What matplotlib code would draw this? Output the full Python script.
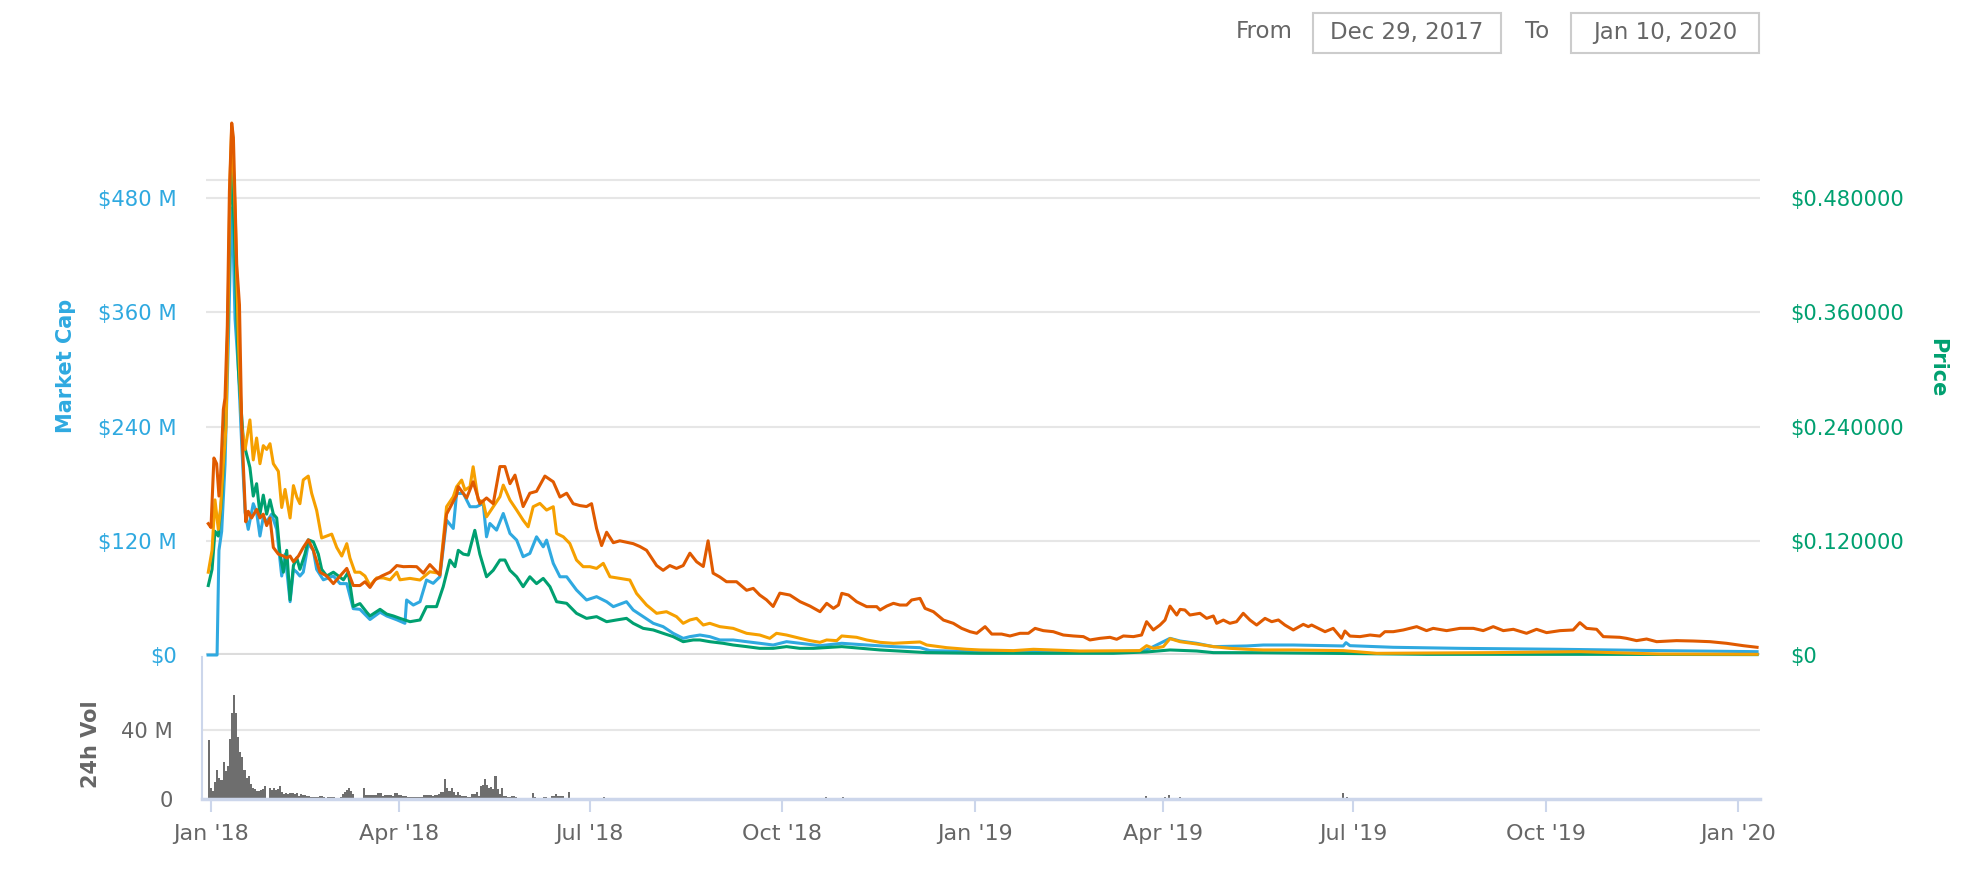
import numpy as np
import pandas as pd
import matplotlib
matplotlib.use("Agg")
import matplotlib.pyplot as plt
import matplotlib.dates as mdates
from matplotlib.patches import Rectangle

plt.rcParams['font.family'] = ['DejaVu Sans']

T0 = pd.Timestamp("2018-01-01")

# (days since 2018-01-01, value)
mcap_pts = [  # market cap, $M (blue)
    (-1.4, 0), (2.9, 0), (3.8, 110), (5.1, 130), (6.7, 200), (8.3, 330), (9.5, 440), (10.2, 470),
    (11.5, 353), (13.1, 300), (14.7, 220), (16.3, 150), (17.8, 132), (20.2, 159), (21.8, 150),
    (23.4, 125), (25, 145), (26.6, 140), (29, 148), (31.4, 132), (33.8, 83), (35.4, 106), (37.8, 56),
    (39.4, 90), (41, 87), (42.5, 83), (44.1, 87), (46.5, 117), (48.9, 110), (50.5, 90), (53.7, 79),
    (58.5, 83), (61.7, 75), (64.9, 75), (68, 48.7), (71.2, 48), (76, 37.3), (80.8, 45), (84, 41),
    (88.8, 37), (92.7, 33.3), (93.5, 57.8), (96.7, 52.5), (99.9, 56), (103, 78.8), (106.2, 75.3),
    (109.4, 82.2), (112.6, 141.7), (115.8, 133), (117.4, 169.8), (120.6, 169.8), (123.8, 155.8),
    (126.9, 155.8), (130.1, 159.3), (131.7, 124.2), (133.3, 138.2), (136.5, 131.2), (139.7, 148.7),
    (142.9, 127.7), (146.1, 120.7), (149.2, 103.3), (152.4, 106.7), (155.6, 124.2), (158.8, 113.7),
    (160.4, 120.7), (163.6, 96.3), (166.8, 82.2), (170, 82.2), (174.7, 68.3), (179.5, 57.8),
    (184.3, 61.3), (189.1, 56), (192.3, 50.8), (198.6, 56), (201.8, 47.3), (206.6, 40.3),
    (211.4, 33.3), (216.1, 29.8), (220.9, 22.8), (225.7, 17.5), (228.9, 19.3), (233.7, 21),
    (238.4, 19.3), (243.2, 15.8), (249.6, 15.8), (256, 14), (262.3, 12.3), (268.7, 10.5), (275.1, 14),
    (281.6, 12.3), (291.1, 9.8), (301.5, 12.3), (313.4, 10.5), (326.2, 8.8), (338.9, 7.7),
    (343.7, 4.6), (367.6, 3.5), (399.5, 3.5), (431.3, 3.5), (445.6, 4.2), (448.8, 7), (458.4, 17.5),
    (463.2, 14.7), (471.1, 12.3), (479.1, 8.8), (495, 9.5), (503, 10.5), (517.3, 10.5), (541.2, 9.5),
    (542.5, 13), (544.4, 9.8), (565.1, 8.1), (597, 7), (644.8, 6), (692.6, 4.6), (739, 3.5),
]

price_pts = [  # price, $ (green, right axis)
    (-1.3, .073), (0.5, .090), (1.9, .130), (3.5, .125), (5.1, .165), (6.7, .230), (8.3, .370),
    (9.1, .470), (9.9, .520), (11.5, .420), (13.1, .300), (15.5, .224), (18.6, .197), (20.2, .167),
    (21.8, .180), (23.4, .148), (25, .168), (26.6, .148), (28.2, .163), (29.8, .148), (31.4, .144),
    (33, .106), (34.6, .087), (36.2, .110), (37.8, .058), (39.4, .094), (41, .102), (42.5, .090),
    (44.9, .106), (46.5, .121), (48.9, .119), (51.3, .106), (52.9, .090), (55.3, .083), (58.5, .087),
    (60.9, .083), (63.3, .079), (65.6, .087), (68, .051), (71.2, .054), (74.4, .045), (76, .041),
    (80.8, .048), (84, .043), (87.2, .041), (90.3, .0385), (95.1, .035), (99.9, .0368), (103, .0508),
    (107.8, .0508), (111, .0718), (114.2, .0998), (116.6, .0928), (118.2, .110), (120.6, .106),
    (123, .105), (126.1, .131), (128.5, .106), (131.7, .0822), (134.9, .089), (138.1, .0998),
    (140.5, .0998), (142.9, .089), (146.1, .0822), (149.2, .0718), (152.4, .0822), (155.6, .075),
    (158.8, .0805), (162, .0718), (165.2, .056), (170, .0543), (174.7, .0438), (179.5, .0385),
    (184.3, .0403), (189.1, .035), (193.8, .0368), (198.6, .0385), (201.8, .0333), (206.6, .028),
    (211.4, .0263), (216.1, .0228), (220.9, .0193), (225.7, .014), (230.5, .0158), (233.7, .0158),
    (238.4, .014), (244.8, .0123), (249.6, .0105), (256, .0088), (262.3, .007), (268.7, .007),
    (275.1, .0088), (281.5, .007), (288, .007), (301.5, .0088), (319.8, .0053), (342.1, .0025),
    (367.6, .0018), (431.3, .0018), (447.2, .0032), (458.4, .0053), (471.1, .0042), (479.1, .0025),
    (501.4, .0024), (533.3, .0018), (581, .0007), (660.7, .0007), (739, .0004),
]

orange_pts = [  # light orange series, left-axis units
    (-1.3, 87), (0.5, 110), (1.9, 163), (3.5, 132), (4.6, 155), (5.9, 201), (7.2, 240), (8.3, 380),
    (9.1, 500), (9.9, 555), (11.5, 470), (13.1, 330), (14.7, 239), (16.3, 216), (18.6, 247),
    (20.2, 205), (21.8, 228), (23.4, 201), (25, 220), (26.6, 216), (28.2, 222), (29.8, 201),
    (32.2, 193), (33.8, 155), (35.4, 174), (37.8, 144), (39.4, 178), (41, 166), (42.5, 159),
    (44.1, 184), (46.5, 188), (48.1, 170), (50.5, 152), (52.9, 123), (55.3, 125), (57.7, 127),
    (60.1, 113), (62.5, 104), (64.9, 117), (66.4, 102), (68.8, 87), (71.2, 87), (73.6, 83), (76, 73),
    (79.2, 81), (82.4, 81), (85.6, 79), (88.8, 87), (90.3, 79), (95.1, 80.5), (99.9, 78.8),
    (104.6, 87.5), (109.4, 85.8), (112.6, 155.8), (115.8, 166.3), (117.4, 176.8), (119.8, 183.8),
    (121.4, 173.3), (123.8, 176.8), (125.3, 197.8), (127.7, 162.8), (130.1, 161), (131.7, 145.2),
    (134.9, 155.8), (138.1, 166.3), (139.7, 178.5), (142.9, 162.8), (146.1, 152.3), (149.2, 141.7),
    (151.6, 134.7), (154, 155.8), (157.2, 159.3), (160.4, 152.3), (163.6, 155.8), (165.2, 127.7),
    (168.4, 124.2), (171.5, 117.2), (174.7, 99.8), (177.9, 92.8), (181.1, 92.8), (184.3, 91),
    (187.5, 96.3), (190.7, 82.2), (195.4, 80.5), (200.2, 78.8), (203.4, 64.7), (208.2, 52.5),
    (213, 43.8), (217.7, 45.5), (222.5, 40.3), (225.7, 33.3), (228.9, 36.8), (232.1, 38.5),
    (235.3, 31.5), (238.4, 33.3), (243.2, 29.8), (249.6, 28), (256, 22.8), (262.3, 21),
    (267.1, 17.5), (270.3, 22.8), (275.1, 21), (281.6, 17.5), (286.3, 15.1), (291.1, 13.3),
    (294.3, 15.8), (299.1, 15.1), (301.5, 20), (308.6, 18.6), (313.4, 15.8), (319.8, 13.3),
    (326.2, 12.3), (332.5, 13), (338.9, 13.7), (342.1, 10.5), (351.7, 7.7), (361.2, 6), (367.6, 5.3),
    (383.5, 4.6), (393.1, 6), (415.4, 4.2), (444, 4.6), (447.2, 9.8), (450.4, 7), (455.2, 8.8),
    (458.4, 17.2), (463.2, 14), (471.1, 11.6), (479.1, 8.8), (487, 7), (495, 6), (503, 5.3),
    (517.3, 5.3), (541.2, 4.6), (557.2, 1.75), (612.9, 2.5), (654.3, 3.5), (692.6, 1), (739, 0.7),
]

red_pts = [  # dark orange series, left-axis units
    (-1.3, 138), (0, 134), (1.4, 207), (2.7, 201), (3.8, 167), (4.6, 190), (5.9, 258), (6.7, 270),
    (7.8, 346), (8.8, 487), (9.9, 559), (10.7, 544), (12.3, 410), (13.6, 368), (14.7, 239),
    (16.6, 140), (17.8, 151), (19.4, 144), (21.8, 153), (23.4, 144), (25, 148), (26.6, 136),
    (28.2, 144), (29.8, 113), (32.2, 106), (34.6, 104), (36.2, 102), (37.8, 104), (39.4, 98),
    (41.8, 104), (44.1, 113), (46.5, 121), (48.9, 110), (52.1, 87), (55.3, 83), (58.5, 75),
    (61.7, 83), (64.9, 91), (68, 73), (71.2, 73), (73.6, 77), (76, 71), (78.4, 79), (81.6, 83),
    (85.6, 87), (88.8, 94), (92, 92.8), (95.1, 93), (98.3, 92.8), (101.5, 86), (104.6, 95),
    (109.4, 84), (112.6, 148), (117.4, 168), (118.2, 177), (122.2, 165), (125.3, 182), (128.5, 159),
    (131.7, 165), (134.9, 159), (138.1, 198), (140.5, 198), (142.9, 180), (145.3, 189), (149.2, 156),
    (152.4, 170), (155.6, 172), (159.6, 188), (163.6, 182), (166.8, 166), (170, 170), (173.1, 159),
    (176.3, 157), (179.5, 156), (181.9, 159), (184.3, 133), (186.7, 115), (189.1, 129), (192.3, 118),
    (195.4, 120), (201.8, 117), (205, 114), (208.2, 110), (213, 94), (216.1, 89), (219.3, 94),
    (222.5, 91), (225.7, 94), (228.9, 107), (232.1, 98), (235.3, 93), (237.6, 120), (240, 86),
    (243.2, 82), (246.4, 77), (251.2, 77), (256, 68), (259.2, 70), (262.3, 63), (265.5, 58),
    (268.7, 51), (271.9, 65), (276.7, 63), (281.6, 56), (286.3, 51.4), (291.1, 45.5), (294.3, 54.3),
    (297.5, 49), (299.9, 52.5), (301.5, 64.8), (304.7, 63), (308.6, 56), (313.4, 50.8), (318.2, 50.8),
    (319.8, 47.3), (323, 51.4), (326.2, 54.3), (329.3, 52.5), (332.5, 52.5), (334.9, 57.8),
    (338.9, 59.5), (341.3, 49), (345.3, 45.5), (350.1, 36.7), (354.8, 33.3), (358.8, 28),
    (362.8, 24.5), (366, 22.8), (370, 29.8), (373.2, 22), (377.9, 22), (381.9, 20), (386.7, 22.8),
    (390.7, 22.8), (393.9, 28), (397.8, 25.6), (402.6, 24.5), (407.4, 21), (412.2, 20), (417, 19.3),
    (420.1, 15.8), (424.9, 17.5), (429.7, 18.6), (432.9, 16.5), (436.1, 20), (440.9, 19.3),
    (444.8, 21), (447.2, 35), (450.4, 26.3), (453.6, 31.5), (456, 36.7), (458.4, 51.4), (461.6, 42),
    (463.2, 47.9), (465.5, 47.3), (467.9, 42), (472.7, 43.8), (475.9, 38.5), (479.1, 41),
    (480.7, 33.3), (483.9, 36.7), (487, 33.3), (490.2, 35), (493.4, 43.8), (496.6, 36.7),
    (499.8, 31.5), (503.8, 38.5), (507, 35), (510.2, 36.8), (513.3, 31.5), (517.3, 26.3),
    (522.1, 32.2), (524.5, 29.8), (526.1, 31.5), (529.3, 28), (532.5, 24.5), (536.4, 28),
    (540.4, 17.5), (542, 25.2), (544.4, 19.9), (549.2, 19.3), (554, 21), (558.7, 19.9), (561.1, 24.5),
    (565.1, 24.5), (569.9, 26.3), (576.3, 29.8), (581, 25.6), (584.2, 28), (590.6, 25.6), (597, 28),
    (603.4, 28), (608.1, 25.6), (612.9, 29.8), (617.7, 25.6), (622.5, 27), (628.8, 22.8), (633.6, 27),
    (638.4, 23.5), (644.8, 25.6), (651.1, 26.3), (654.3, 34), (657.5, 28), (662.3, 27), (665.5, 19.3),
    (673.4, 18.6), (676.6, 17.5), (681.4, 15.1), (686.2, 16.8), (691, 14), (700.5, 15.1),
    (708.5, 14.7), (716.5, 14), (724.4, 12.3), (732.4, 9.8), (739, 8.1),
]

# 24h volume ($M), one bar per day starting 2017-12-31
vol_first_day = -1
vol_daily = [
    34, 6.6, 4.7, 10, 17, 12, 11, 21.6, 16, 18.8, 34.7, 49.8, 60, 49.8, 35.7, 27, 24, 17, 12, 13,
    8.5, 6.6, 5.6, 4.7, 4.7, 5, 6, 7.5, 0, 6.6, 5, 6.6, 5, 5.6, 7.5, 3.8, 2.8,
    3.2, 3.0, 3.2, 3.2, 3.0, 3.2, 2.0, 2.8, 2.4,
    2.4, 2.0, 1.9, 1.0, 1.0, 1.3, 1.3, 1.5, 1.9, 1.0, 0.3, 1.0, 1.1,
    1.1, 1.1, 0.3, 0.5, 1.1, 2.8, 3.8, 5, 6.6, 4.7, 2.8, 0.3, 0, 0.2, 0.3, 6.6, 2.4,
    2.3, 2.3, 2.3, 2.3, 2.3, 3.4, 3.4, 1.9, 2.4, 2.4, 2.3, 2.3, 1.9, 3.2, 3.2, 2.3, 2.3, 1.9, 1.9,
    0.9, 0.9, 0.9, 0.9, 0.9, 0.9, 0.9, 0.9,
    2.3, 2.3, 2.3, 2.3, 1.9, 2.3, 2.3, 2.8, 3.8, 3.8,
    11.3, 6.6, 4.7, 6.6, 3.8, 2.3, 4.1, 2.3, 1.9, 1.9,
    1.5, 0.9, 0.9, 2.8, 2.8, 4.1, 1.9, 7.5, 7.9, 11.3,
    7.9, 6.6, 7.1, 6.0, 13.1, 6, 2.8, 6.6, 1.5, 1.9,
    0.9, 0.9, 1.9, 1.5, 0.9, 0, 0, 0, 0, 0, 0, 0,
    3.4, 0.9, 0, 0, 0.5, 0.9, 0.9, 0.5, 0.3, 1.5,
    1.5, 2.8, 1.9, 1.9, 1.5, 0.3, 0.3, 4.1,
]
vol_later_pts = [(188, 0.9), (294, 1.0), (302, 1.2), (447, 1.5), (456, 1.0), (458, 2.5),
                 (463, 1.2), (541, 3.4), (543, 1.0)]

mcap_ticks = [0, 120, 240, 360, 480]
mcap_labels = ["$0", "$120 M", "$240 M", "$360 M", "$480 M"]
price_ticks = [0, 0.12, 0.24, 0.36, 0.48]
price_labels = ["$0", "$0.120000", "$0.240000", "$0.360000", "$0.480000"]
vol_ticks = [0, 40]
vol_labels = ["0", "40 M"]

C_BLUE = '#2fa9e0'
C_GREEN = '#00a070'
C_ORANGE = '#f6a000'
C_RED = '#e05a00'
C_GRID = '#e6e6e6'
C_AXIS = '#ccd6eb'
C_TEXT = '#666666'


def to_dates(days):
    return (T0 + pd.to_timedelta(np.asarray(days, dtype=float), unit='D')).to_numpy()


def split(pts):
    d, v = zip(*pts)
    return to_dates(d), np.array(v)


W, H = 1978, 882
fig = plt.figure(figsize=(W / 100, H / 100), dpi=100)


def fx(px):
    return px / W


def fy(py):
    return 1 - py / H


# main panel: $0 at y=655px, 600M at y=84px
ax = fig.add_axes([fx(206), fy(655), fx(1760) - fx(206), fy(84) - fy(655)])
axr = ax.twinx()
ax.set_ylim(0, 600)
axr.set_ylim(0, 0.6)
x_lo = mdates.date2num(T0 + pd.Timedelta(days=-2.39))
x_hi = mdates.date2num(T0 + pd.Timedelta(days=740.4))
ax.set_xlim(x_lo, x_hi)

for a in (ax, axr):
    for s in a.spines.values():
        s.set_visible(False)
    a.tick_params(axis='x', which='both', bottom=False, labelbottom=False)

for t in mcap_ticks[1:]:
    ax.axhline(t, color=C_GRID, lw=1.5, zorder=0)
ax.axhline(0, color='#dcdcdc', lw=3, zorder=0)
ax.axhline(499, color=C_GRID, lw=1.5, zorder=0)  # plot-area top border

x, y = split(mcap_pts)
ax.plot(x, y, color=C_BLUE, lw=2.2, zorder=2, clip_on=False)
x, y = split(price_pts)
ax.plot(x, y, color=C_GREEN, lw=2.2, zorder=3, transform=axr.transData, clip_on=False)
x, y = split(orange_pts)
ax.plot(x, y, color=C_ORANGE, lw=2.2, zorder=4, clip_on=False)
x, y = split(red_pts)
ax.plot(x, y, color=C_RED, lw=2.2, zorder=5, clip_on=False)
ax.set_xlim(x_lo, x_hi)
ax.set_ylim(0, 600)

ax.set_yticks(mcap_ticks)
ax.set_yticklabels(mcap_labels)
ax.tick_params(axis='y', length=0, pad=21, labelsize=15.2, labelcolor=C_BLUE)
axr.set_yticks(price_ticks)
axr.set_yticklabels(price_labels)
axr.tick_params(axis='y', length=0, pad=22, labelsize=15.2, labelcolor=C_GREEN)

# volume panel
axv = fig.add_axes([fx(202), fy(799), fx(1760) - fx(202), fy(657) - fy(799)])
vd = to_dates(np.arange(len(vol_daily)) + vol_first_day)
axv.bar(vd, vol_daily, width=1.0, color='#6e6e6e', lw=0, zorder=2)
x, y = split(vol_later_pts)
axv.bar(x, y, width=1.0, color='#6e6e6e', lw=0, zorder=2)
axv.axhline(40, color=C_GRID, lw=1.5, zorder=0)
axv.set_ylim(0, 82)
axv.set_xlim(mdates.date2num(T0 + pd.Timedelta(days=-4.3)), x_hi)
for side in ('top', 'right'):
    axv.spines[side].set_visible(False)
axv.spines['left'].set_color(C_AXIS)
axv.spines['left'].set_linewidth(1.5)
axv.spines['bottom'].set_color(C_AXIS)
axv.spines['bottom'].set_linewidth(2.5)
axv.set_yticks(vol_ticks)
axv.set_yticklabels(vol_labels)
axv.tick_params(axis='y', length=0, pad=21, labelsize=15.2, labelcolor=C_TEXT)
axv.xaxis.set_major_locator(mdates.MonthLocator(bymonth=[1, 4, 7, 10]))
axv.xaxis.set_major_formatter(mdates.DateFormatter("%b '%y"))
axv.tick_params(axis='x', length=9, width=1.5, color=C_AXIS, pad=9,
                labelsize=16, labelcolor=C_TEXT)

# axis titles
fig.text(fx(66), fy(366), "Market Cap", rotation=90, color=C_BLUE, fontsize=15,
         fontweight='bold', ha='center', va='center')
fig.text(fx(1937), fy(368), "Price", rotation=270, color=C_GREEN, fontsize=15,
         fontweight='bold', ha='center', va='center')
fig.text(fx(91), fy(744), "24h Vol", rotation=90, color=C_TEXT, fontsize=15,
         fontweight='bold', ha='center', va='center')

# date range boxes
fig.text(fx(1236), fy(32), "From", color='#666666', fontsize=16.5, ha='left', va='center')
fig.text(fx(1525), fy(32), "To", color='#666666', fontsize=16.5, ha='left', va='center')
for x0, x1, label in [(1313, 1501, "Dec 29, 2017"), (1571, 1759, "Jan 10, 2020")]:
    fig.patches.append(Rectangle((fx(x0), fy(53)), fx(x1) - fx(x0), fy(13) - fy(53),
                                 transform=fig.transFigure, fill=False,
                                 edgecolor='#cccccc', lw=1.5))
    fig.text(fx((x0 + x1) / 2), fy(32), label, color='#666666', fontsize=16.5,
             ha='center', va='center')

fig.savefig("out.png", dpi=100, facecolor='white')
